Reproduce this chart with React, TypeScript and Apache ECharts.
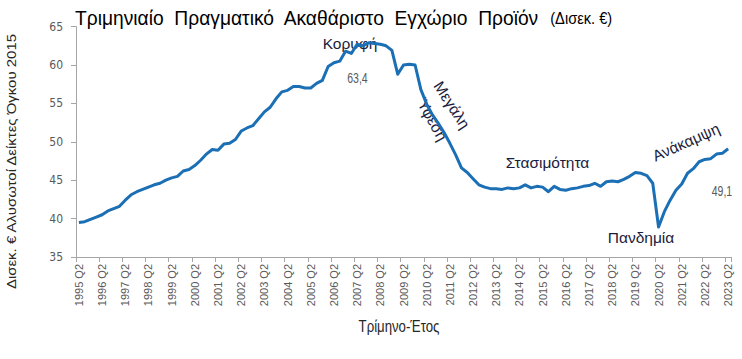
import { useEffect, useRef } from "react";
import * as echarts from "echarts";

// Quarters 1995 Q2 ... 2023 Q2
const firstYear = 1995;
const lastYear = 2023;
const quarterNames = ["Q1", "Q2", "Q3", "Q4"];
const categories: string[] = [];
for (let y = firstYear; y <= lastYear; y++) {
  for (let q = 0; q < 4; q++) {
    if (y === firstYear && q < 1) continue;
    if (y === lastYear && q > 1) continue;
    categories.push(`${y} ${quarterNames[q]}`);
  }
}

const gdp = [
  39.5, 39.6, 39.9, 40.2, 40.5, 41.0, 41.3, 41.6, // 1995Q2-1997Q1
  42.4, 43.1, 43.5, 43.8, 44.1, 44.4, 44.6, 45.0, // 1997Q2-1999Q1
  45.3, 45.5, 46.2, 46.4, 46.9, 47.6, 48.4, 49.0, // 1999Q2-2001Q1
  48.9, 49.7, 49.8, 50.3, 51.4, 51.8, 52.1, 53.0, // 2001Q2-2003Q1
  53.9, 54.5, 55.6, 56.5, 56.7, 57.2, 57.2, 57.0, // 2003Q2-2005Q1
  57.0, 57.6, 58.0, 59.8, 60.3, 60.5, 61.8, 61.5, // 2005Q2-2007Q1
  62.7, 62.5, 62.9, 62.8, 62.7, 62.5, 61.9, 58.8, // 2007Q2-2009Q1
  60.0, 60.1, 60.0, 56.8, 54.9, 53.5, 52.4, 51.2, // 2009Q2-2011Q1
  49.8, 48.3, 46.6, 46.0, 45.2, 44.4, 44.1, 43.9, // 2011Q2-2013Q1
  43.9, 43.8, 44.0, 43.9, 44.0, 44.4, 44.0, 44.2, // 2013Q2-2015Q1
  44.1, 43.5, 44.2, 43.8, 43.7, 43.9, 44.0, 44.2, // 2015Q2-2017Q1
  44.3, 44.6, 44.2, 44.8, 44.9, 44.8, 45.1, 45.5, // 2017Q2-2019Q1
  46.0, 45.9, 45.6, 44.6, 38.9, 40.9, 42.4, 43.7, // 2019Q2-2021Q1
  44.5, 45.9, 46.5, 47.4, 47.7, 47.8, 48.4, 48.5, // 2021Q2-2023Q1
  49.1, // 2023Q2
];

const yMin = 35;
const yMax = 65;
const yStep = 5;

const titleMain = "Τριμηνιαίο  Πραγματικό  Ακαθάριστο  Εγχώριο  Προϊόν";
const titleUnit = "(Δισεκ. €)";
const yName = "Δισεκ. € Αλυσωτοί Δείκτες Όγκου 2015";
const xName = "Τρίμηνο-Έτος";
const peakLabel = "63,4";
const lastLabel = "49,1";

const SANS = "'Liberation Sans', Arial, sans-serif";
const NOTE = "#1c1c3c";
const GREY = "#595959";

function measure(text: string, size: number): number {
  const c = document.createElement("canvas").getContext("2d");
  if (!c) return text.length * size * 0.55;
  c.font = `${size}px 'Liberation Sans', Arial, sans-serif`;
  return c.measureText(text).width;
}

export default function App() {
  const ref = useRef<HTMLDivElement>(null);
  useEffect(() => {
    if (!ref.current) return;
    const chart = echarts.init(ref.current, undefined, { renderer: "svg" });
    const deg = Math.PI / 180;
    const note = (text: string, x: number, y: number, rot = 0) => ({
      type: "text",
      x,
      y,
      rotation: rot * deg,
      style: {
        text,
        fontSize: 15.5,
        fontFamily: SANS,
        fill: NOTE,
        align: "center",
        verticalAlign: "middle",
      },
    });
    const squeezed = (text: string, x: number, y: number, size: number, fill: string, sx: number) => ({
      type: "text",
      x,
      y,
      scaleX: sx,
      style: { text, fontSize: size, fontFamily: SANS, fill, align: "center", verticalAlign: "middle" },
    });

    // title: squeeze horizontally to span 75 -> 612
    const wTitle = measure(titleMain, 21) + measure("  ", 21) + measure(titleUnit, 16);
    const titleScale = (612 - 75) / wTitle;
    // y-axis name: span y 33 -> 290
    const yNameSize = 15;
    const yNameScale = (290 - 33) / measure(yName, yNameSize);

    chart.setOption({
      animation: false,
      backgroundColor: "#ffffff",
      grid: { left: 76, right: 11, top: 26.6, bottom: 102 },
      xAxis: {
        type: "category",
        data: categories,
        boundaryGap: true,
        axisLine: { lineStyle: { color: "#a6a6a6", width: 1 } },
        axisTick: { show: true, interval: 3, length: 5, lineStyle: { color: "#a6a6a6" } },
        axisLabel: {
          interval: 3,
          rotate: 90,
          fontSize: 11,
          fontFamily: SANS,
          color: GREY,
          margin: 7,
        },
        splitLine: { show: false },
      },
      yAxis: {
        type: "value",
        min: yMin,
        max: yMax,
        interval: yStep,
        axisLine: { show: true, lineStyle: { color: "#a6a6a6", width: 1 } },
        axisTick: { show: true, length: 5, lineStyle: { color: "#a6a6a6" } },
        axisLabel: { fontSize: 12, fontFamily: "'DejaVu Sans Condensed', sans-serif", color: GREY, margin: 13 },
        splitLine: { show: false },
      },
      series: [
        {
          type: "line",
          data: gdp,
          showSymbol: false,
          symbol: "none",
          lineStyle: { width: 3, color: "#1b6fb5", join: "round" },
          itemStyle: { color: "#1b6fb5" },
        },
      ],
      graphic: [
        {
          type: "text",
          x: 75,
          y: 18,
          scaleX: titleScale,
          style: {
            text: `{a|${titleMain}  }{b|${titleUnit}}`,
            align: "left",
            verticalAlign: "middle",
            rich: {
              a: { fontSize: 21, fontFamily: SANS, fill: "#000000", fontWeight: "normal" },
              b: { fontSize: 16, fontFamily: SANS, fill: "#000000", fontWeight: "normal" },
            },
          },
        },
        {
          type: "text",
          x: 12,
          y: (33 + 290) / 2,
          rotation: Math.PI / 2,
          scaleX: yNameScale,
          scaleY: 0.8,
          style: {
            text: yName,
            fontSize: yNameSize,
            fontFamily: SANS,
            fill: "#262626",
            align: "center",
            verticalAlign: "middle",
          },
        },
        squeezed(xName, 399, 326, 16.5, "#262626", 0.8),
        note("Κορυφή", 350, 43),
        note("Μεγάλη", 452, 105, -57),
        note("Ύφεση", 432, 119, -61),
        note("Στασιμότητα", 547.5, 162.5),
        note("Ανάκαμψη", 686, 142, 24),
        note("Πανδημία", 641, 237),
        squeezed(peakLabel, 357.5, 78.5, 14, GREY, 0.75),
        squeezed(lastLabel, 722, 191, 14, GREY, 0.75),
      ],
    });
    return () => chart.dispose();
  }, []);
  return (
    <div
      ref={ref}
      style={{ position: "fixed", left: 0, top: 0, width: 742, height: 359, background: "#fff" }}
    />
  );
}
